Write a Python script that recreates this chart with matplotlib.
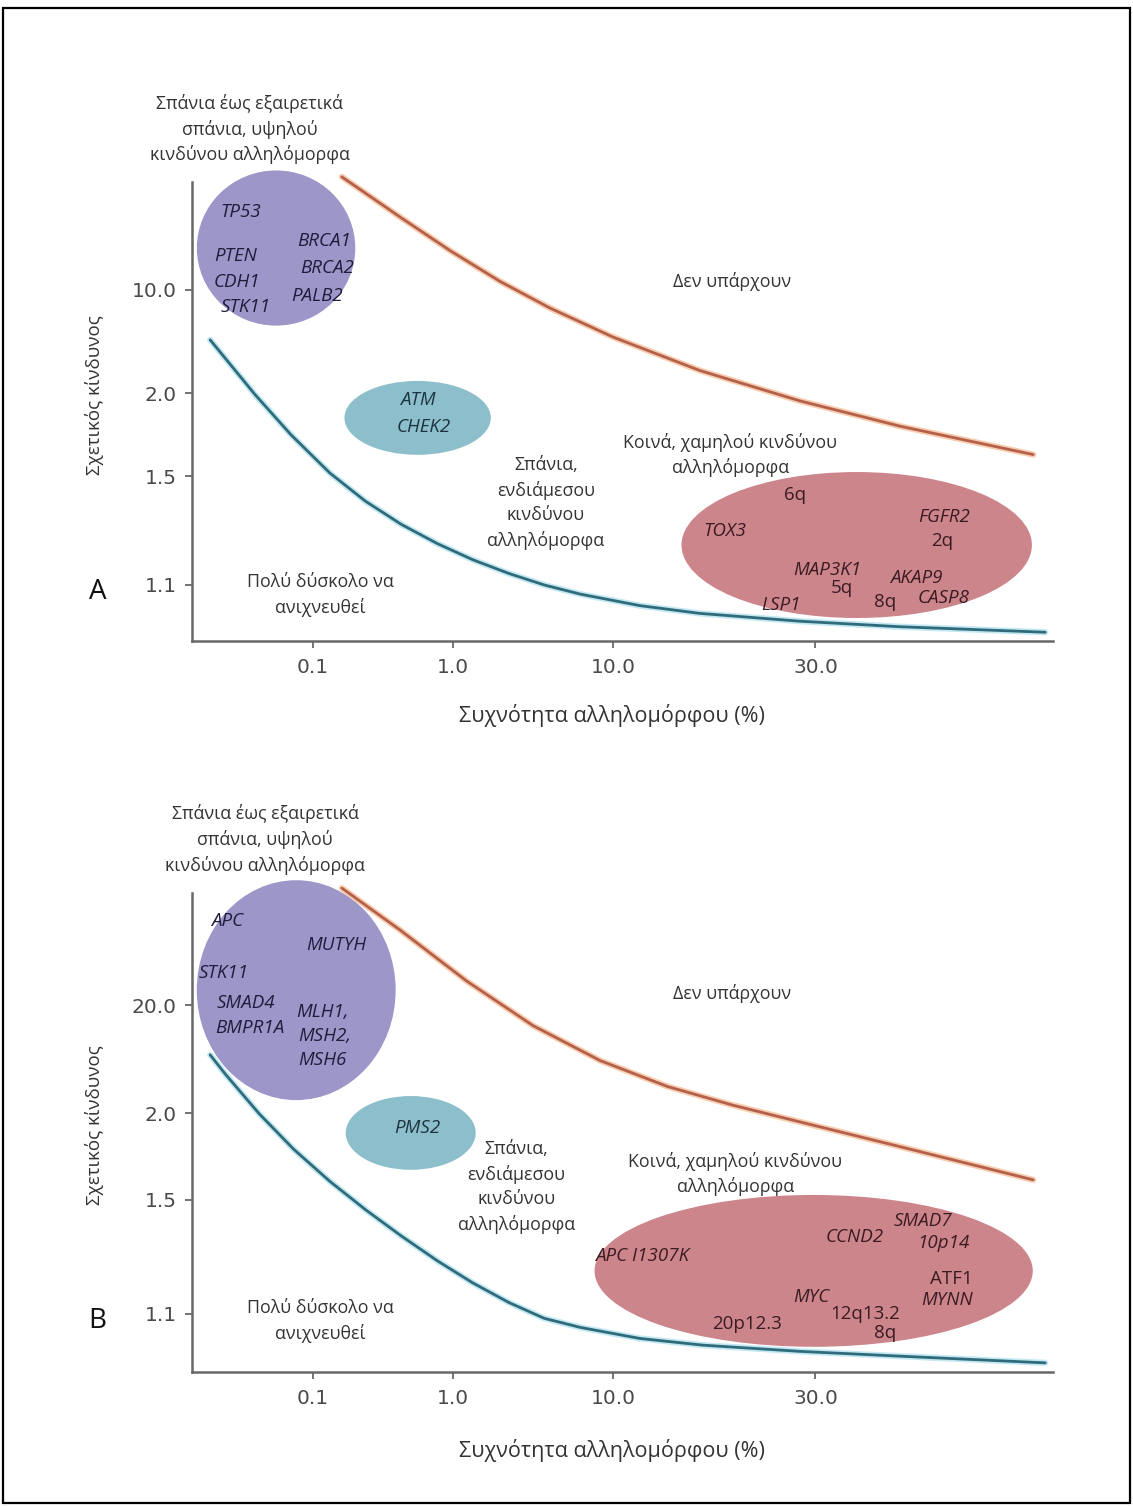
import matplotlib.pyplot as plt
import matplotlib.patheffects as pe
from matplotlib.patches import Ellipse, Rectangle

plt.rcParams['font.family'] = ['Open Sans', 'DejaVu Sans']

# axis ticks (schematic position units 0-100 on both axes)
freq_labels = ['0.1', '1.0', '10.0', '30.0']
freq_pos = [14.05, 30.3, 48.9, 72.4]
risk_pos = [12.2, 35.9, 54.0, 76.5]
risk_labels_a = ['1.1', '1.5', '2.0', '10.0']
risk_labels_b = ['1.1', '1.5', '2.0', '20.0']

# upper limit curve (orange) and detection limit curve (blue)
upper_x_a = [17.4, 24.2, 30.0, 35.8, 41.6, 48.9, 59.0, 70.6, 82.2, 97.7]
upper_y_a = [101.1, 92.3, 85.0, 78.3, 72.5, 66.2, 58.9, 52.3, 46.8, 40.6]
lower_x_a = [2.1, 5.6, 7.3, 11.5, 16.0, 20.1, 24.3, 28.5, 32.6, 36.8, 40.9, 45.1, 52.0, 59.0, 70.6, 82.2, 99.1]
lower_y_a = [65.6, 57.6, 53.7, 44.9, 36.6, 30.5, 25.4, 21.2, 17.7, 14.7, 12.2, 10.2, 7.7, 6.0, 4.3, 3.1, 1.9]

upper_x_b = [17.4, 24.2, 31.9, 39.6, 47.4, 55.2, 62.8, 70.6, 81.4, 97.7]
upper_y_b = [101.0, 92.2, 81.6, 72.3, 65.0, 59.6, 55.7, 52.2, 47.4, 40.1]
lower_x_b = [2.1, 3.9, 7.8, 11.8, 16.0, 20.2, 24.3, 28.5, 32.6, 36.8, 40.9, 45.1, 52.0, 59.3, 70.6, 82.2, 99.1]
lower_y_b = [66.2, 62.1, 53.9, 46.5, 39.8, 33.8, 28.4, 23.2, 18.6, 14.5, 11.2, 9.3, 7.0, 5.6, 4.3, 3.3, 1.9]

# allele groups: (centre x, centre y, width, height)
high_a = (9.76, 85.6, 18.4, 33.8)
mid_a = (26.2, 48.6, 17.0, 16.1)
low_a = (77.2, 20.9, 40.7, 31.8)
high_b = (12.1, 79.7, 23.1, 45.9)
mid_b = (25.4, 49.9, 15.1, 15.4)
low_b = (72.2, 21.1, 50.9, 31.7)

# gene / locus labels: (text, x, y, italic)
genes_high_a = [('TP53', 5.7, 93.5, True), ('PTEN', 5.1, 83.9, True), ('CDH1', 5.2, 78.2, True),
                ('STK11', 6.2, 72.8, True), ('BRCA1', 15.3, 87.1, True), ('BRCA2', 15.7, 81.3, True),
                ('PALB2', 14.5, 75.2, True)]
genes_mid_a = [('ATM', 26.2, 52.5, True), ('CHEK2', 26.9, 46.6, True)]
genes_low_a = [('6q', 70.0, 31.8, False), ('TOX3', 61.9, 24.0, True), ('FGFR2', 87.3, 27.0, True),
               ('2q', 87.1, 21.8, False), ('MAP3K1', 73.8, 15.5, True), ('5q', 75.5, 11.5, False),
               ('AKAP9', 84.1, 13.7, True), ('8q', 80.5, 8.5, False), ('CASP8', 87.3, 9.4, True),
               ('LSP1', 68.4, 7.8, True)]

genes_high_b = [('APC', 4.1, 94.2, True), ('MUTYH', 16.7, 89.1, True), ('STK11', 3.7, 83.3, True),
                ('SMAD4', 6.3, 77.0, True), ('BMPR1A', 6.7, 71.8, True), ('MLH1,', 15.2, 75.2, True),
                ('MSH2,', 15.4, 70.1, True), ('MSH6', 15.1, 65.1, True)]
genes_mid_b = [('PMS2', 26.2, 50.9, True)]
genes_low_b = [('APC I1307K', 52.3, 24.2, True), ('CCND2', 77.0, 28.2, True), ('SMAD7', 84.9, 31.5, True),
               ('10p14', 87.3, 26.9, True), ('ATF1', 88.2, 19.4, False), ('MYNN', 87.7, 15.0, True),
               ('MYC', 71.9, 15.7, True), ('12q13.2', 78.2, 12.1, False), ('8q', 80.5, 8.1, False),
               ('20p12.3', 64.5, 10.0, False)]

# region captions: (text, x, y)
regions_a = [('Σπάνια έως εξαιρετικά\nσπάνια, υψηλού\nκινδύνου αλληλόμορφα', 6.7, 111.5),
             ('Δεν υπάρχουν', 62.7, 78.4),
             ('Σπάνια,\nενδιάμεσου\nκινδύνου\nαλληλόμορφα', 41.1, 30.1),
             ('Κοινά, χαμηλού κινδύνου\nαλληλόμορφα', 62.5, 40.5),
             ('Πολύ δύσκολο να\nανιχνευθεί', 14.9, 10.0)]
regions_b = [('Σπάνια έως εξαιρετικά\nσπάνια, υψηλού\nκινδύνου αλληλόμορφα', 8.5, 111.1),
             ('Δεν υπάρχουν', 62.7, 78.9),
             ('Σπάνια,\nενδιάμεσου\nκινδύνου\nαλληλόμορφα', 37.7, 38.6),
             ('Κοινά, χαμηλού κινδύνου\nαλληλόμορφα', 63.1, 41.3),
             ('Πολύ δύσκολο να\nανιχνευθεί', 14.9, 10.6)]

HIGH_C, MID_C, LOW_C = '#9d96c8', '#8cbfcb', '#cd858c'


def draw_panel(ax, letter, risk_labels, upper, lower, groups, regions, ylab_y):
    ax.set_xlim(0, 100)
    ax.set_ylim(0, 100)
    for s in ['top', 'right']:
        ax.spines[s].set_visible(False)
    for s in ['left', 'bottom']:
        ax.spines[s].set_color('#686868')
        ax.spines[s].set_linewidth(1.8)
    ax.set_xticks(freq_pos, freq_labels)
    ax.set_yticks(risk_pos, risk_labels)
    ax.tick_params(axis='both', direction='out', length=5, width=1.3, color='#686868',
                   labelsize=14.5, labelcolor='#4a4a4a')
    ax.tick_params(axis='x', pad=7)
    ax.tick_params(axis='y', pad=6)
    for lab in ax.get_xticklabels() + ax.get_yticklabels():
        lab.set_family(['DejaVu Sans'])

    for (cx, cy, w, h), col, genes, tcol in groups:
        ax.add_patch(Ellipse((cx, cy), w, h, facecolor=col, edgecolor='none', zorder=1,
                             clip_on=False))
        for txt, x, y, it in genes:
            ax.text(x, y, txt, ha='center', va='center', fontsize=13.5,
                    style='italic' if it else 'normal', color=tcol, zorder=4)

    ax.plot(upper[0], upper[1], color='#b4604b', lw=2.0, zorder=3, clip_on=False,
            solid_capstyle='round', solid_joinstyle='round',
            path_effects=[pe.Stroke(linewidth=4.5, foreground='#f7cdb0'), pe.Normal()])
    ax.plot(lower[0], lower[1], color='#2f6b7a', lw=2.0, zorder=3, clip_on=False,
            solid_capstyle='round', solid_joinstyle='round',
            path_effects=[pe.Stroke(linewidth=4.5, foreground='#c3e8f2'), pe.Normal()])

    for txt, x, y in regions:
        ax.text(x, y, txt, ha='center', va='center', fontsize=12.8, color='#333333',
                linespacing=1.45, clip_on=False, zorder=4)

    ax.text(-11.0, risk_pos[0] - 1.5, letter, ha='center', va='center', fontsize=20,
            color='#111111', clip_on=False)
    ax.text(-11.3, ylab_y, 'Σχετικός κίνδυνος', rotation=90, ha='center', va='center',
            fontsize=13.5, color='#333333', clip_on=False)
    ax.text(48.8, -16.3, 'Συχνότητα αλληλομόρφου (%)', ha='center', va='center',
            fontsize=15.5, color='#333333', clip_on=False)


fig = plt.figure(figsize=(11.33, 15.06), dpi=100)
fig.patch.set_facecolor('white')

ax_a = fig.add_axes([0.1695, 0.5744, 0.7599, 0.3048])
ax_b = fig.add_axes([0.1695, 0.0890, 0.7599, 0.3181])

draw_panel(ax_a, 'A', risk_labels_a, (upper_x_a, upper_y_a), (lower_x_a, lower_y_a),
           [(high_a, HIGH_C, genes_high_a, '#1f1c3c'),
            (mid_a, MID_C, genes_mid_a, '#1d3440'),
            (low_a, LOW_C, genes_low_a, '#3a1b22')],
           regions_a, 53.6)
draw_panel(ax_b, 'B', risk_labels_b, (upper_x_b, upper_y_b), (lower_x_b, lower_y_b),
           [(high_b, HIGH_C, genes_high_b, '#1f1c3c'),
            (mid_b, MID_C, genes_mid_b, '#1d3440'),
            (low_b, LOW_C, genes_low_b, '#3a1b22')],
           regions_b, 51.6)

# outer frame
fig.add_artist(Rectangle((0.003, 0.002), 0.994, 0.993, transform=fig.transFigure,
                         fill=False, edgecolor='black', linewidth=1.6))

fig.savefig('out.png', dpi=100, facecolor='white')
